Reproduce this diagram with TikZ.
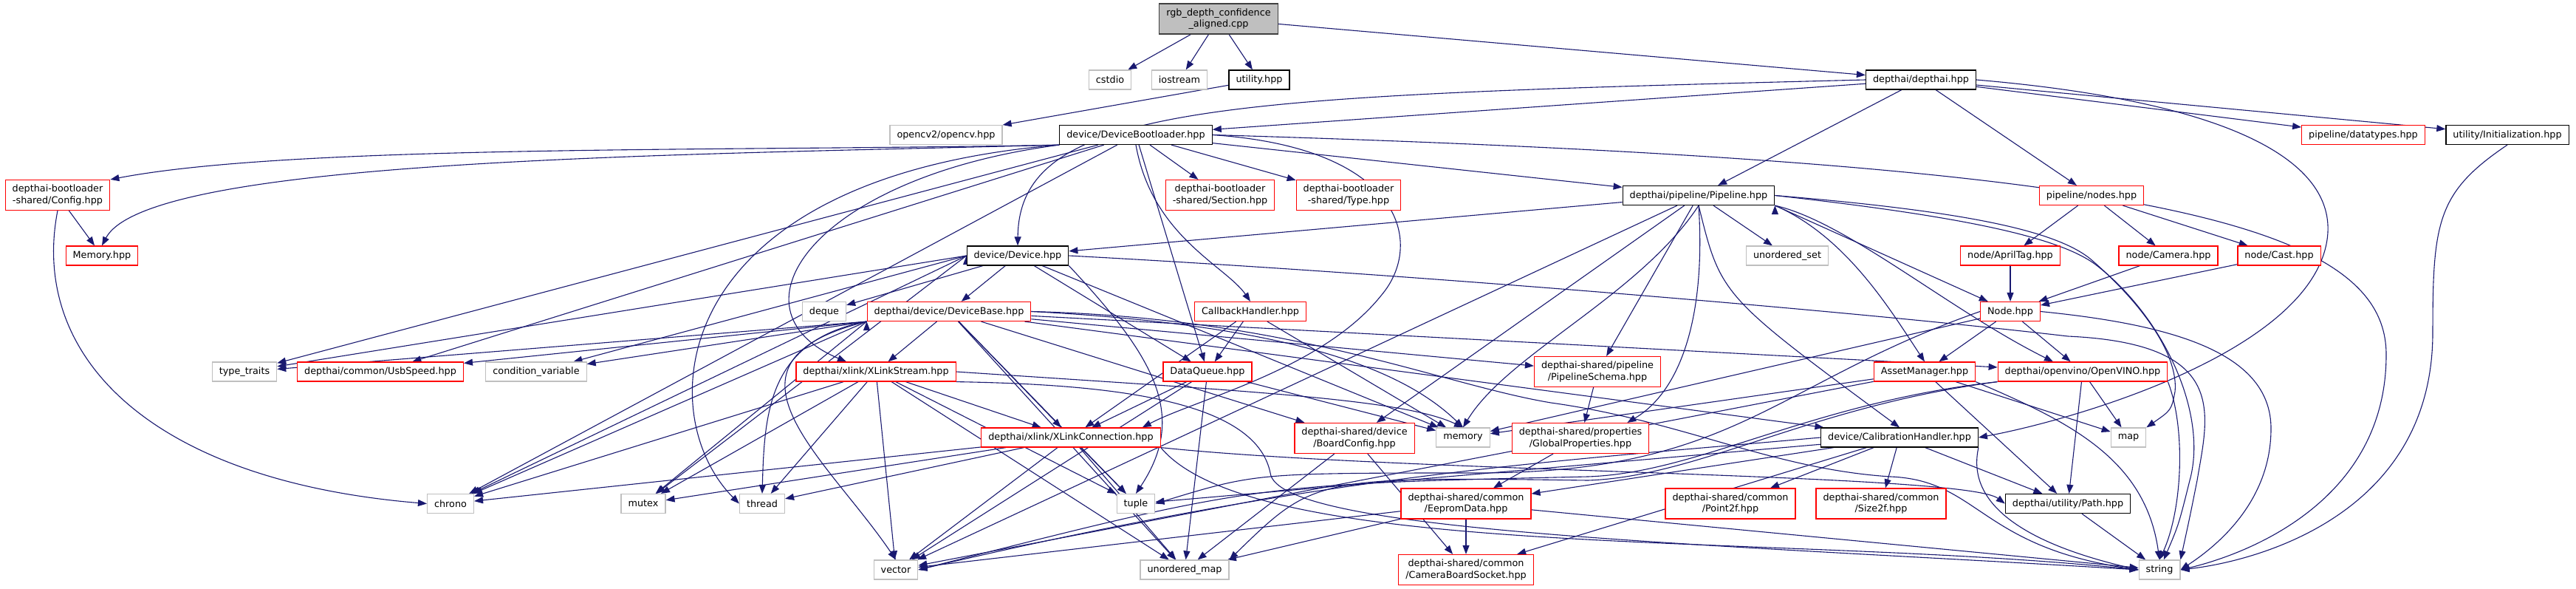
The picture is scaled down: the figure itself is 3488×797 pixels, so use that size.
\documentclass[tikz,border=0pt]{standalone}
\usepackage{fontspec}
\setmainfont{DejaVu Sans}
\usetikzlibrary{arrows.meta,backgrounds}
\definecolor{edgeblue}{rgb}{0.098,0.098,0.439}
\definecolor{sysgray}{rgb}{0.75,0.75,0.75}
\definecolor{rootline}{rgb}{0.25,0.25,0.25}
\tikzstyle{hdrbox} = [rectangle, fill=white, line width=1.2pt, inner xsep=9.5pt,
    inner ysep=2pt, minimum height=26pt, align=center,
    font=\fontsize{12.8}{15.5}\selectfont]
\tikzstyle{docfile} = [hdrbox, draw=black]
\tikzstyle{cutfile} = [hdrbox, draw=red]
\tikzstyle{sysfile} = [hdrbox, draw=sysgray]
\tikzstyle{rootfile} = [hdrbox, draw=rootline, fill=sysgray]
\tikzstyle{twoline} = [minimum height=41pt]
\tikzstyle{incl} = [draw, color=edgeblue, line width=1.1pt,
    -{Triangle[length=12pt,width=9pt]}]

\begin{document}
\begin{tikzpicture}[x=1pt,y=-1pt]
\useasboundingbox (0,0) rectangle (3488,797);

\node (root) [rootfile, twoline] at (1650,25.5) {rgb\_depth\_confidence\\\_aligned.cpp};
\node (cstdio) [sysfile] at (1503,108) {cstdio};
\node (iostream) [sysfile] at (1597,108) {iostream};
\node (utilhpp) [docfile] at (1705,108) {utility.hpp};
\node (depthai) [docfile] at (2601,108) {depthai/depthai.hpp};
\node (opencv) [sysfile] at (1281,182.5) {opencv2/opencv.hpp};
\node (bootl) [docfile] at (1538,182.5) {device/DeviceBootloader.hpp};
\node (dtypes) [cutfile] at (3200,182.5) {pipeline/datatypes.hpp};
\node (init) [docfile] at (3395,182.5) {utility/Initialization.hpp};
\node (bconfig) [cutfile, twoline] at (78,264) {depthai-bootloader\\-shared/Config.hpp};
\node (section) [cutfile, twoline] at (1652,264) {depthai-bootloader\\-shared/Section.hpp};
\node (btype) [cutfile, twoline] at (1826,264) {depthai-bootloader\\-shared/Type.hpp};
\node (pipeline) [docfile] at (2300,264.5) {depthai/pipeline/Pipeline.hpp};
\node (nodes) [cutfile] at (2832,264.5) {pipeline/nodes.hpp};
\node (memhpp) [cutfile] at (138,346) {Memory.hpp};
\node (device) [docfile] at (1378,346) {device/Device.hpp};
\node (uset) [sysfile] at (2420,346) {unordered\_set};
\node (apriltag) [cutfile] at (2722,346) {node/AprilTag.hpp};
\node (camera) [cutfile] at (2936,346) {node/Camera.hpp};
\node (cast) [cutfile] at (3086,346) {node/Cast.hpp};
\node (deque) [sysfile] at (1116,421.5) {deque};
\node (devbase) [cutfile] at (1285,421.5) {depthai/device/DeviceBase.hpp};
\node (callback) [cutfile] at (1693,421.5) {CallbackHandler.hpp};
\node (node) [cutfile] at (2722,421.5) {Node.hpp};
\node (ttraits) [sysfile] at (331,503) {type\_traits};
\node (usb) [cutfile] at (515,503) {depthai/common/UsbSpeed.hpp};
\node (condvar) [sysfile] at (726,503) {condition\_variable};
\node (xstream) [cutfile] at (1186,503) {depthai/xlink/XLinkStream.hpp};
\node (dqueue) [cutfile] at (1635,503) {DataQueue.hpp};
\node (schema) [cutfile, twoline] at (2163,503) {depthai-shared/pipeline\\/PipelineSchema.hpp};
\node (asset) [cutfile] at (2606,503) {AssetManager.hpp};
\node (openvino) [cutfile] at (2820,503) {depthai/openvino/OpenVINO.hpp};
\node (xconn) [cutfile] at (1450,592) {depthai/xlink/XLinkConnection.hpp};
\node (board) [cutfile, twoline] at (1834,593) {depthai-shared/device\\/BoardConfig.hpp};
\node (memory) [sysfile] at (1981,592) {memory};
\node (gprops) [cutfile, twoline] at (2140,593) {depthai-shared/properties\\/GlobalProperties.hpp};
\node (calib) [docfile] at (2572,592) {device/CalibrationHandler.hpp};
\node (map) [sysfile] at (2882,592) {map};
\node (chrono) [sysfile] at (610,681.5) {chrono};
\node (mutex) [sysfile] at (871,681.5) {mutex};
\node (thread) [sysfile] at (1032,681.5) {thread};
\node (tuple) [sysfile] at (1538,681.5) {tuple};
\node (eeprom) [cutfile, twoline] at (1985,681.5) {depthai-shared/common\\/EepromData.hpp};
\node (point) [cutfile, twoline] at (2343,681.5) {depthai-shared/common\\/Point2f.hpp};
\node (size) [cutfile, twoline] at (2547,681.5) {depthai-shared/common\\/Size2f.hpp};
\node (path) [docfile] at (2800,681.5) {depthai/utility/Path.hpp};
\node (vector) [sysfile] at (1213,771) {vector};
\node (umap) [sysfile] at (1604,771) {unordered\_map};
\node (socket) [cutfile, twoline] at (1985,771) {depthai-shared/common\\/CameraBoardSocket.hpp};
\node (string) [sysfile] at (2924,771) {string};

\begin{scope}[on background layer]
\draw [incl] (root) edge (cstdio) edge (iostream) edge (utilhpp) edge (depthai);
\draw [incl] (utilhpp) edge (opencv);
\draw [incl] (depthai) edge (bootl) edge (pipeline) edge (nodes) edge (dtypes) edge (init);
\draw [incl] (depthai.west) .. controls (1650,130) and (1380,140) .. (device.north);
\draw [incl] (depthai.east) .. controls (3050,140) and (3170,230) .. (3150,330)
    .. controls (3120,480) and (2800,570) .. (calib.east);
\draw [incl] (init.south) .. controls (3300,260) and (3294,300) .. (3294,450)
    .. controls (3294,700) and (3050,760) .. (string.east);
\draw [incl] (bootl) edge (section) edge (btype) edge (pipeline) edge (dqueue)
    edge (ttraits) edge (usb) edge (chrono);
\draw [incl] (bootl.south) .. controls (1560,320) and (1660,360) .. (callback.north);
\draw [incl] (bootl.south west) .. controls (1000,205) and (400,195) .. (bconfig.north east);
\draw [incl] (bootl.south west) .. controls (900,210) and (200,215) .. (memhpp.north);
\draw [incl] (bootl.south west) .. controls (1100,240) and (980,420) .. ([xshift=-40pt]xstream.north);
\draw [incl] (bootl.east) .. controls (1900,200) and (1930,330) .. (1870,400)
    .. controls (1790,500) and (1620,540) .. ([xshift=-25pt]xconn.north east);
\draw [incl] (bootl.south west) .. controls (900,240) and (880,560) .. (thread.west);
\draw [incl] (bootl.east) .. controls (2900,220) and (3231,300) .. (3231,480)
    .. controls (3231,700) and (3000,760) .. (string.east);
\draw [incl] (bconfig) edge (memhpp);
\draw [incl] (bconfig.south) .. controls (40,480) and (200,650) .. (chrono.west);
\draw [incl] (pipeline) edge (device) edge (uset) edge (board) edge (schema) edge (vector);
\draw [incl] (pipeline.south east) edge (node);
\draw [incl] (pipeline.south east) .. controls (2500,320) and (2560,420) .. (asset.north);
\draw [incl] (pipeline.south east) .. controls (2500,300) and (2640,420) .. ([xshift=-40pt]openvino.north);
\draw [incl] (pipeline.south) .. controls (2330,400) .. (calib.north);
\draw [incl] (pipeline.south) .. controls (2220,400) and (2040,480) .. (memory.north);
\draw [incl] (pipeline.south) .. controls (2310,430) and (2275,530) .. ([xshift=-30pt]gprops.north east);
\draw [incl] (pipeline.east) .. controls (2650,285) and (2780,310) .. (2830,350)
    .. controls (2900,410) and (2950,480) .. (2945,530) .. controls (2940,555) .. (map.north east);
\draw [incl] (pipeline.east) .. controls (2650,292) and (2790,320) .. (2840,360)
    .. controls (2930,430) and (2990,560) .. (2965,650) .. controls (2950,710) .. (string);
\draw [incl] (nodes) edge (apriltag) edge (camera) edge (cast);
\draw [incl] (apriltag) edge (node);
\draw [incl] (camera) edge (node);
\draw [incl] (cast) edge (node);
\draw [incl] (device) edge (deque) edge (devbase) edge (dqueue) edge (memory);
\draw [incl] (device.west) edge (chrono) edge (mutex) edge (ttraits) edge (condvar);
\draw [incl] (device.south east) .. controls (1560,480) and (1610,560) .. (tuple.north);
\draw [incl] (device.east) .. controls (1900,370) and (2500,420) .. (2800,455)
    .. controls (3020,465) and (2990,560) .. (2975,650) .. controls (2965,700) .. (string.north east);
\draw [incl] (devbase.south west) edge (ttraits) edge (usb) edge (condvar) edge (chrono) edge (mutex);
\draw [incl] (devbase.south west) .. controls (1040,460) and (1035,560) .. (thread.north);
\draw [incl] (devbase.south west) .. controls (950,490) and (1120,620) .. (vector.north);
\draw [incl] (devbase) edge (umap) edge (tuple) edge (xstream) edge (xconn) edge (board)
    edge (schema) edge (openvino) edge (calib);
\draw [incl] (devbase.east) .. controls (1750,440) and (1900,500) .. (memory.north);
\draw [incl] (devbase.east) .. controls (1750,430) and (1950,520) .. (2100,545)
    .. controls (2280,570) and (2400,635) .. (2560,645) .. controls (2680,650) and (2680,740) .. (string.west);
\draw [incl] (callback) edge (dqueue) edge (xconn) edge (memory);
\draw [incl] (dqueue) edge (xconn) edge (memory) edge (vector) edge (umap);
\draw [incl] (xstream) edge (xconn) edge (chrono) edge (mutex) edge (thread) edge (tuple)
    edge (vector) edge (umap);
\draw [incl] (xstream.east) .. controls (1700,530) and (1900,540) .. (memory.north);
\draw [incl] (xstream.south east) .. controls (1500,520) and (1700,540) .. (1720,640)
    .. controls (1730,720) and (2300,735) .. (string.west);
\draw [incl] (xconn) edge (chrono) edge (mutex) edge (thread) edge (tuple) edge (vector)
    edge (umap);
\draw [incl] (xconn.south east) .. controls (1900,640) and (2660,640) .. (path.west);
\draw [incl] (xconn.south east) .. controls (1700,760) and (2400,720) .. (string.west);
\draw [incl] (node) edge (asset) edge (openvino) edge (memory);
\draw [incl] (node.west) .. controls (2400,520) and (2350,640) .. (2000,640)
    .. controls (1700,640) .. (tuple.east);
\draw [incl] (node.east) .. controls (2950,440) and (3075,480) .. (3075,580)
    .. controls (3075,680) and (3000,740) .. (string.east);
\draw [incl] (asset) edge (memory) edge (map) edge (path) edge (vector);
\draw [incl] (asset.south east) .. controls (2800,570) and (2905,620) .. (string.north);
\draw [incl] (openvino) edge (map) edge (path);
\draw [incl] (openvino.south east) .. controls (2960,580) and (2955,690) .. (string.north);
\draw [incl] (openvino.south west) .. controls (2450,545) and (2300,640) .. (2150,645)
    .. controls (1700,655) .. (vector.east);
\draw [incl] (openvino.south west) .. controls (2450,550) and (2300,645) .. (2150,650)
    .. controls (1780,645) .. (umap.north east);
\draw [incl] (calib) edge (eeprom) edge (point) edge (size) edge (socket) edge (path)
    edge (tuple);
\draw [incl] (calib.west) .. controls (2100,625) and (1800,640) .. (vector.east);
\draw [incl] (calib.south east) .. controls (2660,690) and (2760,740) .. (string.west);
\draw [incl] (board) edge (socket) edge (umap);
\draw [incl] (schema) edge (gprops);
\draw [incl] (gprops) edge (eeprom);
\draw [incl] (eeprom) edge (socket) edge (vector) edge (umap) edge (string);
\draw [incl] (path) edge (string);
\end{scope}
\end{tikzpicture}
\end{document}
